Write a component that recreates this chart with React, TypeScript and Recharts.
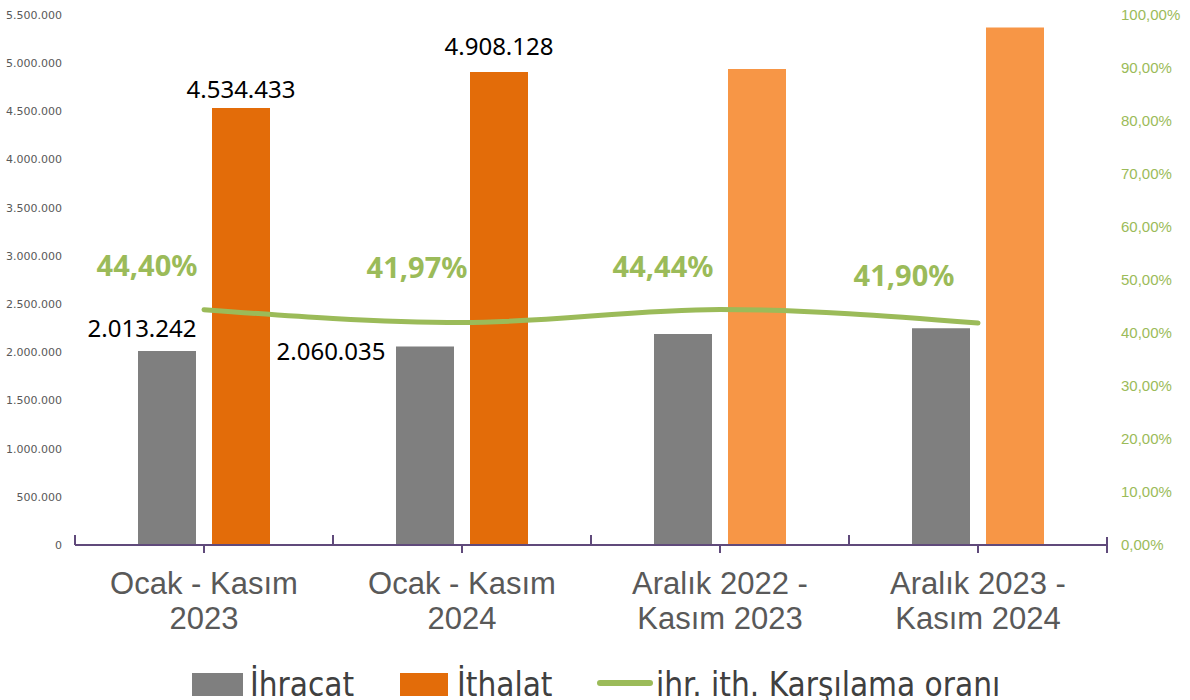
import { ComposedChart, Bar, Line, XAxis, YAxis, Cell, LabelList, Legend } from 'recharts';

const periods = ['Ocak - Kasım 2023', 'Ocak - Kasım 2024', 'Aralık 2022 - Kasım 2023', 'Aralık 2023 - Kasım 2024'];
const periodLines = [
  ['Ocak - Kasım', '2023'],
  ['Ocak - Kasım', '2024'],
  ['Aralık 2022 -', 'Kasım 2023'],
  ['Aralık 2023 -', 'Kasım 2024'],
];
const ihracat = [2013242, 2060035, 2190000, 2250000];
const ithalat = [4534433, 4908128, 4940000, 5370000];
const oran = [0.444, 0.4197, 0.4444, 0.419];
const showValueLabel = [true, true, false, false];
const leftTicks = [0, 500000, 1000000, 1500000, 2000000, 2500000, 3000000, 3500000, 4000000, 4500000, 5000000, 5500000];
const rightTicks = [0, 0.1, 0.2, 0.3, 0.4, 0.5, 0.6, 0.7, 0.8, 0.9, 1];

const data = periods.map((name, i) => ({ name, ihracat: ihracat[i], ithalat: ithalat[i], oran: oran[i] }));

const GRAY = '#7f7f7f';
const ORANGE = '#e36c09';
const ORANGE_LIGHT = '#f79646';
const GREEN = '#9bbb59';
const AXIS = '#604a7b';
const TEXT = '#595959';

const W = 1190;
const H = 700;
const LEFT_W = 75;
const RIGHT_W = 83;
const BAND = (W - LEFT_W - RIGHT_W) / periods.length;

// label nudges, copied by eye from the original
const grayLabelPos = [{ dx: -25, dy: -14 }, { dx: -94, dy: 14 }];
const orangeLabelPos = [{ dx: 0, dy: -10 }, { dx: 0, dy: -17 }];
const pctLabelPos = [{ dx: -57, dy: -34 }, { dx: -45, dy: -45 }, { dx: -57, dy: -32 }, { dx: -74, dy: -37 }];

const dotted = (n: number) => String(Math.round(n)).replace(/\B(?=(\d{3})+(?!\d))/g, '.');
const pct = (v: number) => (v * 100).toFixed(2).replace('.', ',') + '%';

function PeriodTick(props: any) {
  const { x, y, payload } = props;
  const i = periods.indexOf(payload.value);
  const lines = periodLines[i] || [payload.value, ''];
  const last = i === periods.length - 1;
  return (
    <g>
      <line x1={x} x2={x} y1={y} y2={y + 8} stroke={AXIS} strokeWidth={2} />
      <line x1={x - BAND / 2} x2={x - BAND / 2} y1={y - 10} y2={y} stroke={AXIS} strokeWidth={2} />
      {last && <line x1={x + BAND / 2} x2={x + BAND / 2} y1={y - 8} y2={y + 8} stroke={AXIS} strokeWidth={2} />}
      <text textAnchor="middle" fill={TEXT} fontFamily="'Liberation Sans', Arial, sans-serif" fontSize={31}>
        <tspan x={x} y={y + 49}>{lines[0]}</tspan>
        <tspan x={x} y={y + 84}>{lines[1]}</tspan>
      </text>
    </g>
  );
}

const valueLabel = (offsets: { dx: number; dy: number }[]) => (props: any) => {
  const { x, y, width, value, index } = props;
  if (!showValueLabel[index] || !offsets[index]) return null;
  const o = offsets[index];
  return (
    <text x={x + width / 2 + o.dx} y={y + o.dy} textAnchor="middle" fill="#000" fontFamily="'Noto Sans', sans-serif" fontSize={24}>
      {dotted(value)}
    </text>
  );
};

const pctLabel = (props: any) => {
  const { x, y, value, index } = props;
  const o = pctLabelPos[index];
  return (
    <text x={x + o.dx} y={y + o.dy} textAnchor="middle" fill={GREEN} fontFamily="'Noto Sans', sans-serif" fontWeight="bold" fontSize={29}>
      {pct(value)}
    </text>
  );
};

function LegendBox() {
  const txt = {
    position: 'absolute' as const,
    top: 23,
    fontFamily: "'DejaVu Sans Condensed', 'Liberation Sans Narrow', sans-serif",
    fontSize: 33,
    lineHeight: '33px',
    color: '#404040',
    whiteSpace: 'nowrap' as const,
  };
  return (
    <div style={{ height: 55, width: W, position: 'relative' }}>
      <span style={{ position: 'absolute', left: 192, top: 28, width: 51, height: 23, background: GRAY }} />
      <span style={{ ...txt, left: 250 }}>İhracat</span>
      <span style={{ position: 'absolute', left: 400, top: 28, width: 48, height: 23, background: ORANGE }} />
      <span style={{ ...txt, left: 457 }}>İthalat</span>
      <span style={{ position: 'absolute', left: 597, top: 35, width: 56, height: 6, borderRadius: 3, background: GREEN }} />
      <span style={{ ...txt, left: 656 }}>ihr. ith. Karşılama oranı</span>
    </div>
  );
}

export default function App() {
  return (
    <div style={{ position: 'absolute', left: 0, top: 0, background: '#fff' }}>
      <ComposedChart
        width={W}
        height={H}
        data={data}
        margin={{ top: 15, right: 0, bottom: 0, left: 0 }}
        barCategoryGap={63}
        barGap={16}
      >
        <XAxis
          dataKey="name"
          height={100}
          axisLine={{ stroke: AXIS, strokeWidth: 2 }}
          tickLine={false}
          tickSize={0}
          tickMargin={0}
          tick={<PeriodTick />}
          interval={0}
        />
        <YAxis
          yAxisId="left"
          width={LEFT_W}
          domain={[0, 5500000]}
          ticks={leftTicks}
          axisLine={false}
          tickLine={false}
          tickSize={0}
          tickMargin={13}
          tickFormatter={dotted}
          tick={{ fill: TEXT, fontSize: 11, fontFamily: "'DejaVu Sans', Verdana, sans-serif" }}
        />
        <YAxis
          yAxisId="right"
          orientation="right"
          width={RIGHT_W}
          domain={[0, 1]}
          ticks={rightTicks}
          axisLine={false}
          tickLine={false}
          tickSize={0}
          tickMargin={14}
          tickFormatter={pct}
          tick={{ fill: GREEN, fontSize: 15, fontFamily: "'Liberation Sans', Arial, sans-serif", textAnchor: 'start' }}
        />
        <Bar yAxisId="left" dataKey="ihracat" name="İhracat" fill={GRAY} isAnimationActive={false}>
          <LabelList dataKey="ihracat" content={valueLabel(grayLabelPos)} />
        </Bar>
        <Bar yAxisId="left" dataKey="ithalat" name="İthalat" fill={ORANGE} isAnimationActive={false}>
          {data.map((_, i) => (
            <Cell key={`c-${i}`} fill={i < 2 ? ORANGE : ORANGE_LIGHT} />
          ))}
          <LabelList dataKey="ithalat" content={valueLabel(orangeLabelPos)} />
        </Bar>
        <Line
          yAxisId="right"
          type="monotone"
          dataKey="oran"
          name="ihr. ith. Karşılama oranı"
          stroke={GREEN}
          strokeWidth={5}
          strokeLinecap="round"
          dot={false}
          activeDot={false}
          isAnimationActive={false}
        >
          <LabelList dataKey="oran" content={pctLabel} />
        </Line>
        <Legend verticalAlign="bottom" wrapperStyle={{ left: 0, top: 645, width: W }} content={<LegendBox />} />
      </ComposedChart>
    </div>
  );
}
